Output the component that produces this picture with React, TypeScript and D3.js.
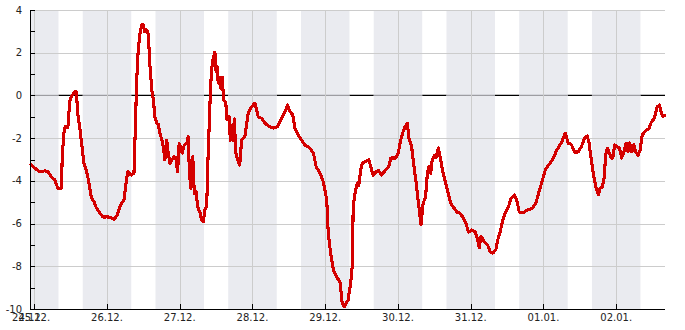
import React from "react";
import * as d3 from "d3";

// hours since 25.12. 00:00, temperature in °C
const readings: [number, number][] = [
  [-1.07, -3.25], [0.2, -3.4], [1.8, -3.58], [3.5, -3.53], [4.5, -3.58], [5.6, -3.8], [6.8, -3.96], [7.8, -4.35], [8.9, -4.35], [9.3, -2.7],
  [9.8, -1.77], [10.2, -1.47], [11.1, -1.5], [11.7, -0.3], [12.2, -0.07], [13.3, 0.17], [13.9, 0.17], [14.4, -0.92], [15.0, -1.47], [15.5, -2.1],
  [16.4, -3.18], [17.2, -3.5], [18.0, -4.05], [18.8, -4.75], [19.7, -4.98], [20.5, -5.27], [21.6, -5.5], [22.7, -5.69], [23.8, -5.69], [25.2, -5.7],
  [26.3, -5.8], [27.4, -5.6], [28.5, -5.13], [29.6, -4.9], [30.4, -3.96], [30.9, -3.58], [32.0, -3.73], [32.9, -3.65], [33.3, -1.77], [33.8, 0.72],
  [34.3, 2.12], [34.9, 2.9], [35.5, 3.3], [36.0, 3.3], [36.5, 2.97], [37.1, 3.06], [37.6, 2.9], [38.2, 1.34], [38.8, 0.25], [39.3, -0.2],
  [39.8, -1.0], [40.4, -1.3], [40.9, -1.35], [41.5, -1.77], [42.1, -2.09], [42.6, -2.4], [43.1, -3.02], [43.7, -2.09], [44.2, -2.7], [44.8, -3.18],
  [45.5, -3.0], [46.2, -2.87], [46.7, -2.9], [47.3, -3.58], [47.8, -2.25], [48.4, -2.4], [48.8, -2.7], [49.5, -2.32], [50.3, -2.25], [50.8, -1.93],
  [51.2, -3.65], [51.7, -4.35], [52.3, -2.86], [52.8, -4.58], [53.4, -4.5], [53.9, -5.2], [54.7, -5.5], [55.2, -5.83], [55.8, -5.92], [56.3, -5.36],
  [56.9, -5.2], [57.2, -3.49], [57.7, -1.47], [58.1, 0.11], [58.5, 1.19], [59.1, 1.8], [59.6, 2.03], [60.0, 1.1], [60.3, 1.36], [60.7, 0.58],
  [61.3, 0.86], [61.6, 0.3], [62.0, 0.86], [62.5, -0.2], [63.2, -0.36], [63.6, -1.15], [64.3, -1.0], [64.7, -2.1], [65.1, -1.4], [65.6, -2.1],
  [66.0, -1.1], [66.5, -2.7], [67.1, -3.02], [67.8, -3.26], [68.4, -2.1], [69.5, -1.93], [70.6, -0.84], [71.7, -0.53], [72.8, -0.36], [73.9, -1.0],
  [75.0, -1.07], [76.1, -1.3], [77.8, -1.47], [78.9, -1.53], [80.2, -1.47], [81.6, -1.07], [82.7, -0.77], [83.6, -0.45], [84.1, -0.7], [85.3, -0.92],
  [86.0, -1.53], [87.1, -1.85], [88.2, -2.1], [89.3, -2.32], [91.0, -2.47], [92.1, -2.7], [93.0, -3.33], [93.7, -3.5], [94.5, -3.73], [95.2, -3.96],
  [95.9, -4.43], [96.5, -4.9], [97.0, -6.45], [97.8, -7.4], [98.7, -8.17], [99.8, -8.5], [100.9, -8.75], [101.6, -9.72], [102.3, -9.9], [103.1, -9.67],
  [103.5, -9.6], [104.4, -8.78], [104.9, -8.03], [105.2, -5.5], [105.5, -4.9], [106.0, -4.43], [106.6, -4.1], [107.1, -4.2], [107.7, -3.49], [108.2, -3.18],
  [109.3, -3.1], [110.4, -3.02], [111.0, -3.33], [111.8, -3.73], [112.6, -3.6], [113.5, -3.5], [114.6, -3.73], [115.9, -3.5], [117.0, -3.33], [117.6, -2.93],
  [119.2, -2.93], [120.1, -2.7], [120.9, -2.09], [121.7, -1.7], [122.3, -1.47], [123.1, -1.3], [123.6, -2.0], [124.5, -2.4], [125.3, -3.33], [126.0, -4.1],
  [126.9, -5.2], [127.6, -6.06], [128.3, -5.05], [129.1, -4.75], [129.7, -3.65], [130.2, -3.33], [130.8, -3.65], [131.3, -3.02], [132.0, -2.8], [132.6, -2.9],
  [133.3, -2.46], [134.1, -3.02], [134.9, -3.65], [135.7, -4.1], [136.6, -4.58], [137.4, -5.05], [138.5, -5.27], [139.6, -5.5], [140.2, -5.5], [141.4, -5.68],
  [142.4, -5.98], [143.3, -6.4], [144.4, -6.3], [145.5, -6.4], [146.3, -6.77], [146.8, -7.14], [147.4, -6.6], [148.5, -6.85], [149.6, -7.0], [150.4, -7.33],
  [151.3, -7.38], [152.3, -7.23], [152.9, -6.77], [153.7, -6.4], [154.6, -5.83], [155.4, -5.5], [156.5, -5.2], [157.3, -4.82], [158.4, -4.66], [159.2, -4.9],
  [160.0, -5.45], [161.1, -5.5], [162.8, -5.36], [164.2, -5.3], [165.5, -5.05], [166.4, -4.58], [167.5, -4.05], [168.6, -3.49], [169.7, -3.26], [171.0, -3.02],
  [172.1, -2.65], [173.2, -2.37], [174.1, -2.18], [174.9, -1.85], [175.3, -1.77], [176.1, -2.23], [177.2, -2.3], [178.3, -2.65], [179.4, -2.65], [180.5, -2.4],
  [181.6, -2.0], [182.4, -1.9], [183.0, -2.18], [183.8, -3.02], [184.6, -3.8], [185.4, -4.35], [186.1, -4.66], [186.7, -4.35], [187.4, -4.28], [188.1, -3.8],
  [188.5, -2.8], [189.1, -2.47], [189.6, -2.65], [190.4, -2.93], [190.9, -2.93], [191.5, -2.32], [192.3, -2.4], [193.1, -2.47], [193.8, -2.93], [194.5, -2.65],
  [195.3, -2.23], [195.9, -2.65], [196.4, -2.23], [197.2, -2.65], [197.8, -2.3], [198.4, -2.65], [199.2, -2.8], [199.9, -2.55], [200.6, -1.85], [201.4, -1.7],
  [202.1, -1.62], [202.8, -1.55], [203.6, -1.25], [204.4, -1.1], [205.0, -0.84], [205.5, -0.53], [206.3, -0.45], [206.9, -0.84], [207.4, -1.0], [208.0, -0.93],
];

const dayLabels = ["25.12.", "26.12.", "27.12.", "28.12.", "29.12.", "30.12.", "31.12.", "01.01.", "02.01."];
const startLabel = "24.12.";
const yTickValues = [-10, -9, -8, -7, -6, -5, -4, -3, -2, -1, 0, 1, 2, 3, 4];
const yLabelValues = [-10, -8, -6, -4, -2, 0, 2, 4];
const domainHours: [number, number] = [-1.07, 208.1];
const nightHalfWidth = 8; // dark hours 16:00 – 08:00

const W = 685;
const H = 330;
const LEFT = 31;
const RIGHT = 665;
const TOP = 10;
const BOTTOM = 309;
const FONT = "'DejaVu Sans', sans-serif";

const BASE = new Date(2023, 11, 25, 0, 0, 0).getTime();
const toDate = (h: number) => new Date(BASE + h * 3600e3);

export default function App() {
  const x = d3.scaleTime().domain(domainHours.map(toDate)).range([LEFT, RIGHT]);
  const y = d3.scaleLinear().domain([-10, 4]).range([BOTTOM, TOP]);

  const dayHours = dayLabels.map((_, i) => i * 24);
  const bands = dayHours
    .map((h) => [Math.max(h - nightHalfWidth, domainHours[0]), Math.min(h + nightHalfWidth, domainHours[1])])
    .filter(([a, b]) => b > a);

  const line = d3
    .line<[number, number]>()
    .x((d) => x(toDate(d[0])))
    .y((d) => y(d[1]));

  return (
    <svg width={W} height={H} style={{ position: "absolute", left: 0, top: 0, background: "#fff" }} fontFamily={FONT}>
      <rect x={0} y={0} width={W} height={H} fill="#fff" />
      {/* zero line under the bands */}
      <line x1={LEFT} x2={RIGHT} y1={y(0)} y2={y(0)} stroke="#000" strokeWidth={1.2} />
      {bands.map(([a, b], i) => (
        <rect key={"b" + i} x={x(toDate(a))} y={TOP} width={x(toDate(b)) - x(toDate(a))} height={BOTTOM - TOP} fill="#eaebf0" />
      ))}
      {bands.map(([a, b], i) => (
        <line key={"z" + i} x1={x(toDate(a))} x2={x(toDate(b))} y1={y(0)} y2={y(0)} stroke="#9d9da2" strokeWidth={1.2} />
      ))}
      {yLabelValues.filter((v) => v !== 0 && v !== -10).map((v) => (
        <line key={"gy" + v} x1={LEFT} x2={RIGHT} y1={Math.round(y(v)) + 0.5} y2={Math.round(y(v)) + 0.5} stroke="#cccccc" strokeWidth={1} />
      ))}
      {dayHours.map((h) => (
        <line key={"gx" + h} x1={Math.round(x(toDate(h))) + 0.5} x2={Math.round(x(toDate(h))) + 0.5} y1={TOP} y2={BOTTOM} stroke="#cccccc" strokeWidth={1} />
      ))}
      <path d={line(readings) || ""} fill="none" stroke="#d40000" strokeWidth={3.1} strokeLinejoin="round" strokeLinecap="round" shapeRendering="crispEdges" />
      {/* y axis */}
      <line x1={LEFT - 0.5} x2={LEFT - 0.5} y1={TOP} y2={BOTTOM + 0.5} stroke="#000" strokeWidth={1} />
      {yTickValues.map((v) => (
        <line key={"ty" + v} x1={LEFT - 1} x2={LEFT + 4} y1={Math.round(y(v)) + 0.5} y2={Math.round(y(v)) + 0.5} stroke="#000" strokeWidth={1} />
      ))}
      {yLabelValues.map((v) => (
        <text key={"ly" + v} x={22} y={y(v) + 3.5} textAnchor="end" fontSize={10} fill="#222">
          {v}
        </text>
      ))}
      {/* x axis */}
      <line x1={LEFT - 1} x2={RIGHT} y1={BOTTOM + 0.5} y2={BOTTOM + 0.5} stroke="#000" strokeWidth={1} />
      {dayHours.map((h) => (
        <line key={"tx" + h} x1={Math.round(x(toDate(h))) + 0.5} x2={Math.round(x(toDate(h))) + 0.5} y1={BOTTOM - 5} y2={BOTTOM} stroke="#000" strokeWidth={1} />
      ))}
      <text x={28} y={321} textAnchor="middle" fontSize={10} fill="#222">
        {startLabel}
      </text>
      {dayLabels.map((lab, i) => (
        <text key={"lx" + i} x={x(toDate(dayHours[i]))} y={321} textAnchor="middle" fontSize={10} fill="#222">
          {lab}
        </text>
      ))}
    </svg>
  );
}
